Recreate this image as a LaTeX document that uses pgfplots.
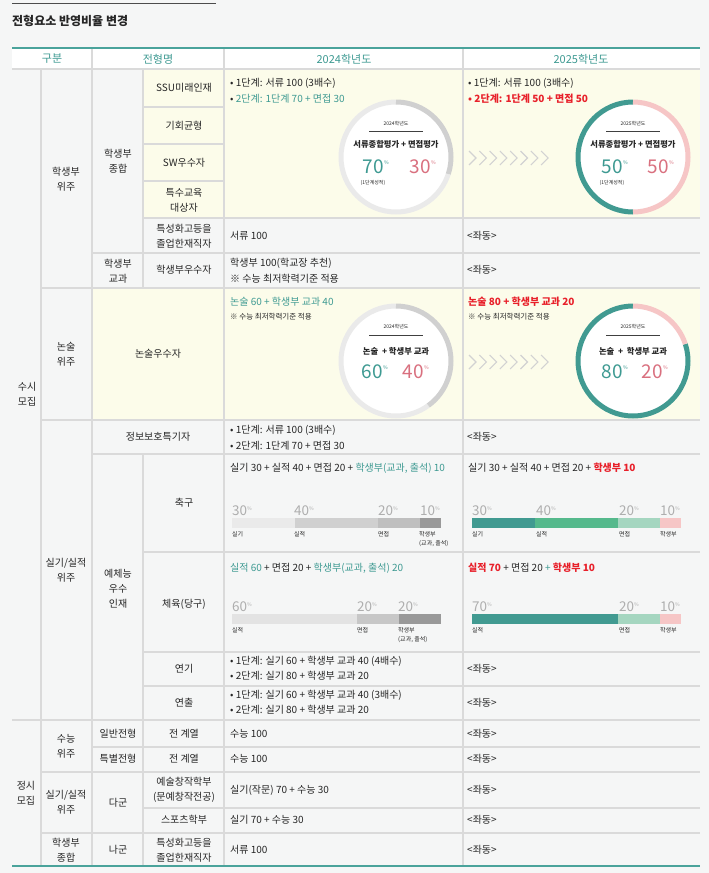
\documentclass[border=0pt]{standalone}
\usepackage{pgfplots}
\pgfplotsset{compat=1.18}
\usepackage{fontspec}
\setmainfont{Noto Sans CJK KR}
\definecolor{bg}{HTML}{F5F6F6}
\definecolor{cream}{HTML}{FCFCEA}
\definecolor{tl}{HTML}{3E9A92}
\definecolor{tlh}{HTML}{4AA39B}
\definecolor{rd}{HTML}{E8202A}
\definecolor{pk}{HTML}{D9707F}
\definecolor{txt}{HTML}{262626}
\definecolor{ln}{HTML}{DADADA}
\definecolor{gA}{HTML}{EAEAEA}
\definecolor{gB}{HTML}{D0D0D0}
\definecolor{cT}{HTML}{419A91}
\definecolor{cG}{HTML}{55B98C}
\definecolor{cL}{HTML}{A5D6C0}
\definecolor{cP}{HTML}{F6C6C6}
\definecolor{chev}{HTML}{D2D2D2}
\definecolor{bigg}{HTML}{AEAEAE}
\newcommand\fs[2]{\fontsize{#1}{#2}\selectfont}
% text helpers
\newcommand\tx[3]{\node[anchor=west,inner sep=0pt,font=\fs{10}{11},text=txt] at (axis cs:#1,#2) {#3};}
\newcommand\ct[3]{\node[align=center,inner sep=0pt,font=\fs{10}{15},text=txt] at (axis cs:#1,#2) {#3};}
\newcommand\bigv[3]{\node[anchor=south west,inner sep=0pt,font=\fs{13.5}{13.5},text=bigg] at (axis cs:#1,#2) {#3\raisebox{5pt}{\fs{5}{5}\%}};}
\newcommand\sm[3]{\node[anchor=north west,align=left,inner sep=0pt,font=\fs{6}{9},text=txt] at (axis cs:#1,#2) {#3};}
% donut: cx, cy, left value, right value, left colour, right colour
\newcommand\donut[6]{%
  \fill[white] (axis cs:#1,#2) circle[radius=55pt];
  \draw[line width=5pt,#5] (axis cs:#1,#2) ++(90:55pt) arc[start angle=90,delta angle=3.6*#3,radius=55pt];
  \draw[line width=5pt,#6] (axis cs:#1,#2) ++(90:55pt) arc[start angle=90,delta angle=-3.6*#4,radius=55pt];
}
\newcommand\chevrons[1]{%
  \pgfplotsinvokeforeach{0,1,2,3,4,5,6,7}{%
    \draw[chev,line width=1.1pt] (axis cs:469+10.3*##1,#1-7) -- (axis cs:476+10.3*##1,#1) -- (axis cs:469+10.3*##1,#1+7);}%
}
\begin{document}
\begin{tikzpicture}
\begin{axis}[name=main,at={(0,0)},anchor=south west,scale only axis,width=709pt,height=873pt,
  xmin=0,xmax=709,ymin=0,ymax=873,y dir=reverse,hide axis,clip=false]
% backgrounds
\fill[bg] (axis cs:0,0) rectangle (axis cs:709,873);
\fill[white] (axis cs:12,48) rectangle (axis cs:700,69);
\fill[cream] (axis cs:143,69) rectangle (axis cs:700,218);
\fill[cream] (axis cs:92,288) rectangle (axis cs:700,420);
% title
\draw[black!70,line width=1pt] (axis cs:12,3) -- (axis cs:216,3);
\node[anchor=west,inner sep=0pt,font=\fs{12}{13}\bfseries,text=black!85] at (axis cs:12,21) {전형요소 반영비율 변경};
% grid lines
\begin{scope}[ln,line width=1.3pt]
\draw (axis cs:143,107) -- (axis cs:224,107);
\draw (axis cs:143,144) -- (axis cs:224,144);
\draw (axis cs:143,181) -- (axis cs:224,181);
\draw (axis cs:143,218) -- (axis cs:700,218);
\draw (axis cs:92,253) -- (axis cs:700,253);
\draw (axis cs:41,288) -- (axis cs:700,288);
\draw (axis cs:41,420) -- (axis cs:700,420);
\draw (axis cs:92,454) -- (axis cs:700,454);
\draw (axis cs:143,552) -- (axis cs:700,552);
\draw (axis cs:143,652) -- (axis cs:700,652);
\draw (axis cs:143,686) -- (axis cs:700,686);
\draw (axis cs:12,720) -- (axis cs:700,720);
\draw (axis cs:92,747) -- (axis cs:700,747);
\draw (axis cs:41,772) -- (axis cs:700,772);
\draw (axis cs:143,808) -- (axis cs:700,808);
\draw (axis cs:41,833) -- (axis cs:700,833);
\draw (axis cs:12,69) -- (axis cs:700,69);
\draw (axis cs:41,69) -- (axis cs:41,866);
\draw (axis cs:92,48) -- (axis cs:92,866);
\draw (axis cs:143,69) -- (axis cs:143,288);
\draw (axis cs:143,454) -- (axis cs:143,866);
\draw (axis cs:224,48) -- (axis cs:224,866);
\draw (axis cs:463,48) -- (axis cs:463,866);
\end{scope}
\draw[tlh,line width=2.6pt] (axis cs:12,48) -- (axis cs:700,48);
\draw[tlh,line width=2.6pt] (axis cs:12,866) -- (axis cs:700,866);
% header
\begin{scope}[every node/.style={inner sep=0pt,font=\fs{11}{12},text=tl}]
\node at (axis cs:52,59) {구분};
\node at (axis cs:158,59) {전형명};
\node at (axis cs:344,59) {2024학년도};
\node at (axis cs:581,59) {2025학년도};
\end{scope}
% column 1
\ct{27}{394}{수시\\모집}
\ct{26}{793}{정시\\모집}
% column 2
\ct{66}{179}{학생부\\위주}
\ct{66}{354}{논술\\위주}
\ct{66}{570}{실기/실적\\위주}
\ct{66}{746}{수능\\위주}
\ct{66}{802}{실기/실적\\위주}
\ct{66}{850}{학생부\\종합}
% column 3
\ct{118}{161}{학생부\\종합}
\ct{118}{271}{학생부\\교과}
\ct{118}{589}{예체능\\우수\\인재}
\ct{118}{734}{일반전형}
\ct{118}{759}{특별전형}
\ct{118}{803}{다군}
\ct{118}{850}{나군}
% column 4
\ct{184}{88}{SSU미래인재}
\ct{184}{126}{기회균형}
\ct{184}{163}{SW우수자}
\ct{184}{200}{특수교육\\대상자}
\ct{184}{236}{특성화고등을\\졸업한재직자}
\ct{184}{270}{학생부우수자}
\ct{158}{354}{논술우수자}
\ct{158}{437}{정보보호특기자}
\ct{184}{503}{축구}
\ct{184}{604}{체육(당구)}
\ct{184}{669}{연기}
\ct{184}{703}{연출}
\ct{184}{734}{전 계열}
\ct{184}{759}{전 계열}
\ct{184}{790}{예술창작학부\\(문예창작전공)}
\ct{184}{820}{스포츠학부}
\ct{184}{850}{특성화고등을\\졸업한재직자}
% 2024 column texts
\tx{230}{83}{• 1단계: 서류 100 (3배수)}
\tx{230}{99}{• \textcolor{tl}{2단계: 1단계 70 + 면접 30}}
\tx{230}{236}{서류 100}
\tx{230}{263}{학생부 100(학교장 추천)}
\tx{230}{279}{※ 수능 최저학력기준 적용}
\tx{230}{302}{\textcolor{tl}{논술 60 + 학생부 교과 40}}
\node[anchor=west,inner sep=0pt,font=\fs{7.5}{8},text=txt] at (axis cs:230,317) {※ 수능 최저학력기준 적용};
\tx{230}{430}{• 1단계: 서류 100 (3배수)}
\tx{230}{446}{• 2단계: 1단계 70 + 면접 30}
\tx{230}{468}{실기 30 + 실적 40 + 면접 20 + \textcolor{tl}{학생부(교과, 출석) 10}}
\tx{230}{568}{\textcolor{tl}{실적 60} + 면접 20 + \textcolor{tl}{학생부(교과, 출석) 20}}
\tx{230}{661}{• 1단계: 실기 60 + 학생부 교과 40 (4배수)}
\tx{230}{676}{• 2단계: 실기 80 + 학생부 교과 20}
\tx{230}{695}{• 1단계: 실기 60 + 학생부 교과 40 (3배수)}
\tx{230}{710}{• 2단계: 실기 80 + 학생부 교과 20}
\tx{230}{734}{수능 100}
\tx{230}{759}{수능 100}
\tx{230}{790}{실기(작문) 70 + 수능 30}
\tx{230}{820}{실기 70 + 수능 30}
\tx{230}{850}{서류 100}
% 2025 column texts
\tx{468}{83}{• 1단계: 서류 100 (3배수)}
\tx{468}{99}{\textcolor{rd}{\bfseries • 2단계: 1단계 50 + 면접 50}}
\tx{467}{236}{<좌동>}
\tx{467}{270}{<좌동>}
\tx{468}{302}{\textcolor{rd}{\bfseries 논술 80 + 학생부 교과 20}}
\node[anchor=west,inner sep=0pt,font=\fs{7.5}{8},text=txt] at (axis cs:468,317) {※ 수능 최저학력기준 적용};
\tx{467}{437}{<좌동>}
\tx{468}{468}{실기 30 + 실적 40 + 면접 20 + \textcolor{rd}{\bfseries 학생부 10}}
\tx{468}{568}{\textcolor{rd}{\bfseries 실적 70} + 면접 20 \textcolor{tl}{+} \textcolor{rd}{\bfseries 학생부 10}}
\tx{467}{669}{<좌동>}
\tx{467}{703}{<좌동>}
\tx{467}{734}{<좌동>}
\tx{467}{759}{<좌동>}
\tx{467}{790}{<좌동>}
\tx{467}{820}{<좌동>}
\tx{467}{850}{<좌동>}
% chevrons
\chevrons{158}
\chevrons{362}
% donuts (values in percent)
\donut{396}{157}{70}{30}{gA}{gB}
\donut{633}{157}{50}{50}{cT}{cP}
\donut{396}{361}{60}{40}{gA}{gB}
\donut{633}{361}{80}{20}{cT}{cP}
% donut inner texts
\begin{scope}[every node/.style={inner sep=0pt}]
\node[font=\fs{5}{5},text=txt] at (axis cs:396,124) {2024학년도};
\node[font=\fs{5}{5},text=txt] at (axis cs:633,124) {2025학년도};
\node[font=\fs{5}{5},text=txt] at (axis cs:396,327) {2024학년도};
\node[font=\fs{5}{5},text=txt] at (axis cs:633,327) {2025학년도};
\draw[black!75,line width=0.9pt] (axis cs:369,131) -- (axis cs:423,131);
\draw[black!75,line width=0.9pt] (axis cs:606,131) -- (axis cs:660,131);
\draw[black!75,line width=0.9pt] (axis cs:369,335) -- (axis cs:423,335);
\draw[black!75,line width=0.9pt] (axis cs:606,335) -- (axis cs:660,335);
\node[font=\fs{8.3}{9}\bfseries,text=txt] at (axis cs:396,144) {서류종합평가 + 면접평가};
\node[font=\fs{8.3}{9}\bfseries,text=txt] at (axis cs:633,144) {서류종합평가 + 면접평가};
\node[font=\fs{8.3}{9}\bfseries,text=txt] at (axis cs:396,351) {논술 \ + 학생부 교과};
\node[font=\fs{8.3}{9}\bfseries,text=txt] at (axis cs:633,351) {논술 \ + \ 학생부 교과};
\node[font=\fs{19}{19},text=tl,anchor=east] at (axis cs:384,167) {70};
\node[font=\fs{5}{5},text=tl,anchor=west] at (axis cs:384,163) {\%};
\node[font=\fs{19}{19},text=pk,anchor=east] at (axis cs:431,167) {30};
\node[font=\fs{5}{5},text=pk,anchor=west] at (axis cs:431,163) {\%};
\node[font=\fs{5}{5},text=txt] at (axis cs:373,183) {(1단계성적)};
\node[font=\fs{19}{19},text=tl,anchor=east] at (axis cs:623,167) {50};
\node[font=\fs{5}{5},text=tl,anchor=west] at (axis cs:623,163) {\%};
\node[font=\fs{19}{19},text=pk,anchor=east] at (axis cs:669,167) {50};
\node[font=\fs{5}{5},text=pk,anchor=west] at (axis cs:669,163) {\%};
\node[font=\fs{5}{5},text=txt] at (axis cs:612,183) {(1단계성적)};
\node[font=\fs{19}{19},text=tl,anchor=east] at (axis cs:383,372) {60};
\node[font=\fs{5}{5},text=tl,anchor=west] at (axis cs:383,368) {\%};
\node[font=\fs{19}{19},text=pk,anchor=east] at (axis cs:424,372) {40};
\node[font=\fs{5}{5},text=pk,anchor=west] at (axis cs:424,368) {\%};
\node[font=\fs{19}{19},text=tl,anchor=east] at (axis cs:623,372) {80};
\node[font=\fs{5}{5},text=tl,anchor=west] at (axis cs:623,368) {\%};
\node[font=\fs{19}{19},text=pk,anchor=east] at (axis cs:663,372) {20};
\node[font=\fs{5}{5},text=pk,anchor=west] at (axis cs:663,368) {\%};
\end{scope}
% bar value labels (above) and names (below)
\bigv{232}{516}{30}\bigv{294}{516}{40}\bigv{378}{516}{20}\bigv{420}{516}{10}
\sm{232}{531}{실기}\sm{294}{531}{실적}\sm{378}{531}{면접}\sm{419}{531}{학생부\\(교과, 출석)}
\bigv{472}{516}{30}\bigv{536}{516}{40}\bigv{619}{516}{20}\bigv{660}{516}{10}
\sm{472}{531}{실기}\sm{536}{531}{실적}\sm{619}{531}{면접}\sm{660}{531}{학생부}
\bigv{232}{612}{60}\bigv{357}{612}{20}\bigv{398}{612}{20}
\sm{232}{627}{실적}\sm{357}{627}{면접}\sm{398}{627}{학생부\\(교과, 출석)}
\bigv{472}{612}{70}\bigv{619}{612}{20}\bigv{660}{612}{10}
\sm{472}{627}{실적}\sm{619}{627}{면접}\sm{660}{627}{학생부}
\end{axis}
% stacked bars
\pgfplotsset{barax/.style={anchor=south west,scale only axis,width=209pt,height=10pt,
  xmin=0,xmax=100,ymin=0.5,ymax=1.5,hide axis,xbar stacked,bar width=10pt,clip=false}}
\begin{axis}[barax,at={(232pt,345pt)}]
\addplot[fill=gA,draw=none] coordinates {(30,1)};
\addplot[fill=gB,draw=none] coordinates {(40,1)};
\addplot[fill=black!25,draw=none] coordinates {(20,1)};
\addplot[fill=black!40,draw=none] coordinates {(10,1)};
\end{axis}
\begin{axis}[barax,at={(472pt,345pt)}]
\addplot[fill=cT,draw=none] coordinates {(30,1)};
\addplot[fill=cG,draw=none] coordinates {(40,1)};
\addplot[fill=cL,draw=none] coordinates {(20,1)};
\addplot[fill=cP,draw=none] coordinates {(10,1)};
\end{axis}
\begin{axis}[barax,at={(232pt,249pt)}]
\addplot[fill=black!11,draw=none] coordinates {(60,1)};
\addplot[fill=black!22,draw=none] coordinates {(20,1)};
\addplot[fill=black!40,draw=none] coordinates {(20,1)};
\end{axis}
\begin{axis}[barax,at={(472pt,249pt)}]
\addplot[fill=cT,draw=none] coordinates {(70,1)};
\addplot[fill=cL,draw=none] coordinates {(20,1)};
\addplot[fill=cP,draw=none] coordinates {(10,1)};
\end{axis}
\end{tikzpicture}
\end{document}
